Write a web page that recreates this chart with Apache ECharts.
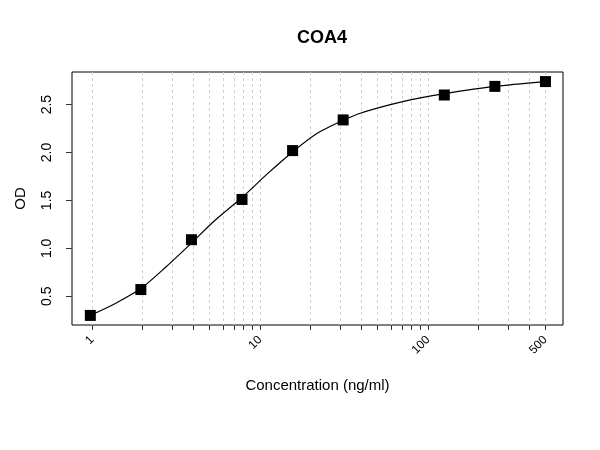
<!DOCTYPE html>
<html>
<head>
<meta charset="utf-8">
<script src="https://cdn.jsdelivr.net/npm/echarts@6/dist/echarts.min.js"></script>
<style>
  html, body { margin: 0; padding: 0; background: #fff; }
  #main { width: 600px; height: 450px; }
</style>
</head>
<body>
<div id="main"></div>
<script>
// standard dilution series (ng/ml) and measured OD
var concentrations = [0.977, 1.953, 3.906, 7.8125, 15.625, 31.25, 125, 250, 500];
var odValues = [0.30, 0.57, 1.09, 1.51, 2.02, 2.34, 2.60, 2.69, 2.74];

// fitted curve
var curveX = [0.977, 1.376, 1.953, 2.73, 3.906, 5.42, 7.8125, 11.0, 15.625, 21.8, 31.25, 39.5, 59.7, 90, 125, 250, 500];
var curveY = [0.30, 0.425, 0.58, 0.80, 1.055, 1.295, 1.53, 1.774, 2.006, 2.198, 2.336, 2.41, 2.50, 2.57, 2.615, 2.69, 2.74];

var xTickValues = [1, 2, 3, 4, 5, 6, 7, 8, 9, 10, 20, 30, 40, 50, 60, 70, 80, 90, 100, 200, 300, 400, 500];
var xLabelValues = [1, 10, 100, 500];
var yTickValues = [0.5, 1.0, 1.5, 2.0, 2.5];

var points = concentrations.map(function (c, i) {
  return [c, odValues[i]];
});
var curve = curveX.map(function (c, i) {
  return [c, curveY[i]];
});

var myChart = echarts.init(document.getElementById('main'));

myChart.setOption({
  backgroundColor: '#fff',
  animation: false,
  title: {
    text: 'COA4',
    left: 317,
    top: 24,
    textAlign: 'center',
    textStyle: {
      fontFamily: 'Liberation Sans',
      fontSize: 18,
      fontWeight: 'bold',
      color: '#000'
    }
  },
  grid: {
    left: 72,
    right: 37,
    top: 72,
    bottom: 125,
    show: true,
    borderColor: '#000',
    borderWidth: 1,
    containLabel: false,
    outerBoundsMode: 'none'
  },
  xAxis: {
    type: 'log',
    logBase: 10,
    min: 0.76,
    max: 636,
    name: 'Concentration (ng/ml)',
    nameLocation: 'middle',
    nameGap: 53,
    nameTextStyle: {
      fontFamily: 'Liberation Sans',
      fontSize: 15,
      color: '#000'
    },
    axisLine: { show: false },
    axisTick: {
      show: true,
      length: 5,
      customValues: xTickValues,
      lineStyle: { color: '#333' }
    },
    axisLabel: {
      customValues: xLabelValues,
      rotate: 45,
      margin: 13,
      fontFamily: 'Liberation Sans',
      fontSize: 12,
      color: '#000'
    },
    splitLine: {
      show: true,
      lineStyle: { color: '#d0d0d0', type: [3, 3], width: 1 }
    }
  },
  yAxis: {
    type: 'value',
    min: 0.2,
    max: 2.84,
    name: 'OD',
    nameLocation: 'middle',
    nameGap: 44,
    nameRotate: 90,
    nameTextStyle: {
      fontFamily: 'Liberation Sans',
      fontSize: 15,
      color: '#000'
    },
    axisLine: { show: false },
    axisTick: {
      show: true,
      length: 6,
      customValues: yTickValues,
      lineStyle: { color: '#333' }
    },
    axisLabel: {
      customValues: yTickValues,
      rotate: 90,
      margin: 18,
      fontFamily: 'Liberation Sans',
      fontSize: 14,
      color: '#000',
      formatter: function (v) { return v.toFixed(1); }
    },
    splitLine: { show: false }
  },
  series: [
    {
      type: 'line',
      data: curve,
      smooth: 0.25,
      showSymbol: false,
      symbol: 'none',
      lineStyle: { color: '#000', width: 1.2 },
      z: 2
    },
    {
      type: 'scatter',
      data: points,
      symbol: 'rect',
      symbolSize: 11,
      itemStyle: { color: '#000', opacity: 1 },
      z: 3
    }
  ]
});
</script>
</body>
</html>
